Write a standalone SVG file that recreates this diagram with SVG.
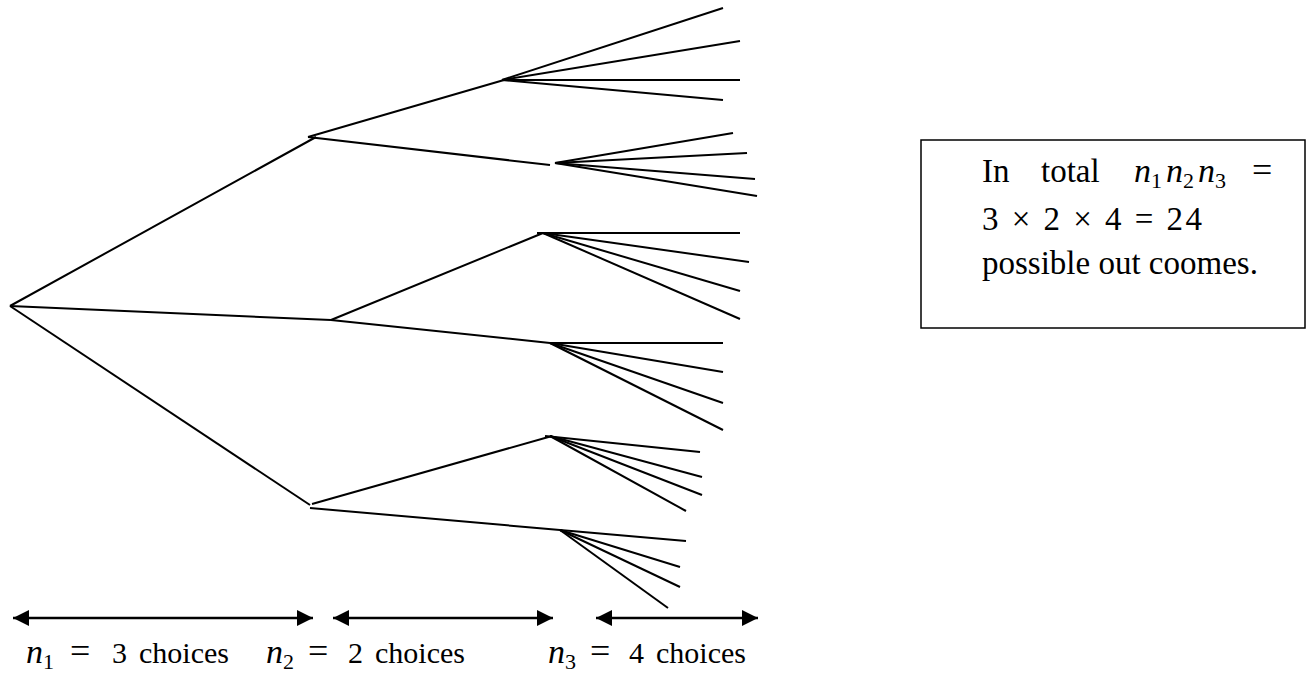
<svg xmlns="http://www.w3.org/2000/svg" width="1309" height="673" viewBox="0 0 1309 673">
<style>
.e{stroke:#000;stroke-width:2;fill:none;stroke-linecap:butt}
.ar{stroke:#000;stroke-width:2.5;fill:none}
.t{font-family:"Liberation Serif","Times New Roman",serif;font-size:30px;fill:#000}
.b{font-size:33px}
.mi{font-style:italic;font-size:34px}
.sub{font-size:22px}
.eq{font-size:36px}
</style>
<defs>
<marker id="ah" viewBox="0 0 10 10" refX="10" refY="5" markerWidth="7" markerHeight="6.4" markerUnits="strokeWidth" orient="auto-start-reverse">
<path d="M0,0 L10,5 L0,10 Z" fill="#000"/>
</marker>
</defs>
<rect width="1309" height="673" fill="#fff"/>
<g id="connectors">
<line class="e" x1="10" y1="306" x2="316" y2="137"/>
<line class="e" x1="10" y1="306" x2="331" y2="320"/>
<line class="e" x1="10" y1="306" x2="310" y2="505"/>
<line class="e" x1="308" y1="137" x2="504" y2="80"/>
<line class="e" x1="308" y1="137" x2="550" y2="165"/>
<line class="e" x1="331" y1="320" x2="543" y2="233"/>
<line class="e" x1="331" y1="320" x2="550" y2="343"/>
<line class="e" x1="312" y1="504" x2="552" y2="436"/>
<line class="e" x1="310" y1="508" x2="560" y2="530"/>
<line class="e" x1="502" y1="80" x2="723" y2="8"/>
<line class="e" x1="502" y1="80" x2="740" y2="41"/>
<line class="e" x1="502" y1="80" x2="740" y2="80"/>
<line class="e" x1="502" y1="80" x2="723" y2="100"/>
<line class="e" x1="555" y1="163" x2="733" y2="133"/>
<line class="e" x1="555" y1="163" x2="747" y2="153"/>
<line class="e" x1="555" y1="163" x2="755" y2="179"/>
<line class="e" x1="555" y1="163" x2="757" y2="196"/>
<line class="e" x1="537" y1="233" x2="740" y2="233"/>
<line class="e" x1="543" y1="233" x2="749" y2="262"/>
<line class="e" x1="543" y1="233" x2="740" y2="291"/>
<line class="e" x1="543" y1="233" x2="740" y2="319"/>
<line class="e" x1="550" y1="343" x2="723" y2="343"/>
<line class="e" x1="550" y1="343" x2="723" y2="372"/>
<line class="e" x1="550" y1="343" x2="723" y2="403"/>
<line class="e" x1="550" y1="343" x2="723" y2="430"/>
<line class="e" x1="545" y1="436" x2="700" y2="452"/>
<line class="e" x1="550" y1="436" x2="702" y2="477"/>
<line class="e" x1="550" y1="436" x2="702" y2="495"/>
<line class="e" x1="550" y1="436" x2="686" y2="511"/>
<line class="e" x1="560" y1="530" x2="686" y2="541"/>
<line class="e" x1="560" y1="530" x2="680" y2="567"/>
<line class="e" x1="560" y1="530" x2="680" y2="587"/>
<line class="e" x1="560" y1="530" x2="668" y2="608"/>
<line class="ar" x1="13" y1="618" x2="313" y2="618" marker-start="url(#ah)" marker-end="url(#ah)"/>
<line class="ar" x1="333" y1="618" x2="553" y2="618" marker-start="url(#ah)" marker-end="url(#ah)"/>
<line class="ar" x1="596" y1="618" x2="758" y2="618" marker-start="url(#ah)" marker-end="url(#ah)"/>
</g>
<g id="label-n1">
<text class="t" y="663"><tspan class="mi" x="26">n</tspan><tspan class="sub" dy="6">1</tspan><tspan class="eq" x="70" dy="-6">=</tspan><tspan x="112">3</tspan><tspan x="139">choices</tspan></text>
</g>
<g id="label-n2">
<text class="t" y="663"><tspan class="mi" x="266">n</tspan><tspan class="sub" dy="6">2</tspan><tspan class="eq" x="308" dy="-6">=</tspan><tspan x="348">2</tspan><tspan x="375">choices</tspan></text>
</g>
<g id="label-n3">
<text class="t" y="663"><tspan class="mi" x="548">n</tspan><tspan class="sub" dy="6">3</tspan><tspan class="eq" x="590" dy="-6">=</tspan><tspan x="629">4</tspan><tspan x="656">choices</tspan></text>
</g>
<g id="total-box">
<rect x="921" y="140" width="384" height="188" fill="#fff" stroke="#000" stroke-width="1.5"/>
<text class="t b" y="182"><tspan x="982">In</tspan><tspan x="1041">total</tspan><tspan class="mi" x="1134">n</tspan><tspan class="sub" dy="6">1</tspan><tspan class="mi" x="1166" dy="-6">n</tspan><tspan class="sub" dy="6">2</tspan><tspan class="mi" x="1198" dy="-6">n</tspan><tspan class="sub" dy="6">3</tspan><tspan class="eq" x="1252" dy="-6">=</tspan></text>
<text class="t b" x="982" y="230" textLength="220" lengthAdjust="spacing">3 × 2 × 4 = 24</text>
<text class="t b" x="982" y="274">possible out coomes.</text>
</g>
</svg>
